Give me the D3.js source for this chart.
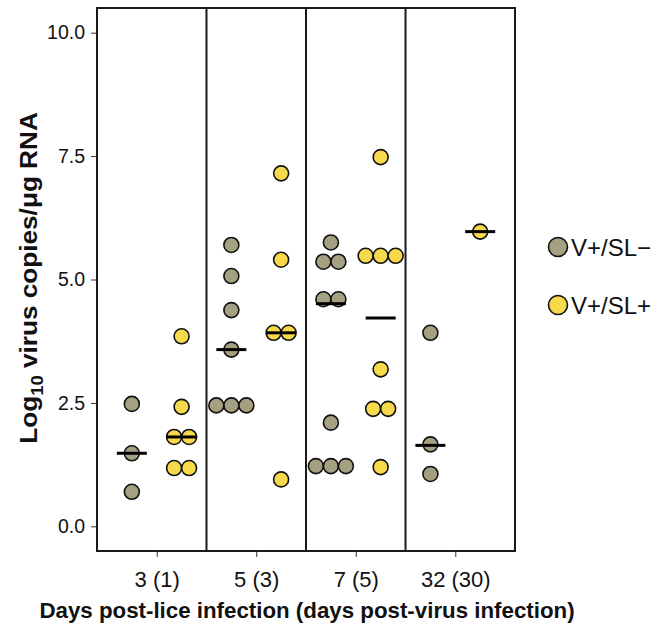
<!DOCTYPE html>
<html>
<head>
<meta charset="utf-8">
<title>Virus copies dotplot</title>
<script src="https://cdn.jsdelivr.net/npm/d3@7"></script>
<style>
  body { margin: 0; background: #fff; }
  svg { font-family: "Liberation Sans", Arial, sans-serif; }
</style>
</head>
<body>
<svg id="chart" width="665" height="625"></svg>
<script>
// categories (x groups) and series
var days = ['3 (1)', '5 (3)', '7 (5)', '32 (30)']
var seriesNames = ['V+/SL\u2212', 'V+/SL+']
var seriesColors = ['#a6a082', '#f6da4c']

// values per group
var slMinus = [
  [2.48, 1.48, 0.70],
  [5.70, 5.07, 4.38, 3.58, 2.45, 2.45, 2.45],
  [5.75, 5.36, 5.36, 4.60, 4.60, 2.10, 1.22, 1.22, 1.22],
  [3.92, 1.66, 1.06]
]
var slPlus = [
  [3.85, 2.42, 1.81, 1.81, 1.18, 1.18],
  [7.15, 5.40, 3.92, 3.92, 0.95],
  [7.48, 5.48, 5.48, 5.48, 3.18, 2.38, 2.38, 1.20],
  [5.97]
]
// median bars
var medMinus = [1.48, 3.58, 4.51, 1.64]
var medPlus = [1.81, 3.92, 4.22, 5.97]

var yTicks = [0, 2.5, 5, 7.5, 10]

var svg = d3.select('#chart')
var pLeft = 97, pRight = 515, pTop = 8, pBottom = 551
var r = 7.5

var x = d3.scaleLinear().domain([0.4, days.length + 0.6]).range([pLeft, pRight])
var y = d3.scaleLinear().domain([-0.5, 10.5]).range([pBottom, pTop])
var dodge = 0.25

var g = svg.append('g')

// vertical separators
g.selectAll('.sep')
  .data(d3.range(1, days.length))
  .enter().append('line')
  .attr('x1', d => x(d + 0.5)).attr('x2', d => x(d + 0.5))
  .attr('y1', pTop).attr('y2', pBottom)
  .attr('stroke', '#1a1a1a').attr('stroke-width', 2)

// frame
g.append('rect')
  .attr('x', pLeft).attr('y', pTop)
  .attr('width', pRight - pLeft).attr('height', pBottom - pTop)
  .attr('fill', 'none').attr('stroke', '#1a1a1a').attr('stroke-width', 2)

// y axis
var yAxis = g.append('g')
  .attr('transform', 'translate(' + pLeft + ',0)')
  .call(d3.axisLeft(y).tickValues(yTicks).tickFormat(d3.format('.1f')).tickSize(6).tickPadding(6))
yAxis.select('.domain').remove()
yAxis.selectAll('line').attr('stroke', '#333')
yAxis.selectAll('text').attr('font-size', 19.5).attr('fill', '#111')
  .attr('font-family', '"Liberation Sans", Arial, sans-serif')

// x axis
var xAxis = g.append('g')
  .attr('transform', 'translate(0,' + pBottom + ')')
  .call(d3.axisBottom(x).tickValues(d3.range(1, days.length + 1))
    .tickFormat(d => days[d - 1]).tickSize(6).tickPadding(14))
xAxis.select('.domain').remove()
xAxis.selectAll('line').attr('stroke', '#333')
xAxis.selectAll('text').attr('font-size', 22).attr('fill', '#111')
  .attr('font-family', '"Liberation Sans", Arial, sans-serif')

// stack equal values side by side, like a centred dotplot
function dots(groups, off, ci) {
  var out = []
  groups.forEach(function(vals, gi) {
    var counts = d3.rollup(vals, v => v.length, v => v)
    var seen = new Map()
    vals.forEach(function(v) {
      var n = counts.get(v), k = seen.get(v) || 0
      seen.set(v, k + 1)
      out.push({cx: x(gi + 1 + off) + (k - (n - 1) / 2) * 2 * r, cy: y(v), c: ci})
    })
  })
  return out
}

var allDots = dots(slMinus, -dodge, 0).concat(dots(slPlus, dodge, 1))

g.append('g').selectAll('circle')
  .data(allDots)
  .enter().append('circle')
  .attr('cx', d => d.cx).attr('cy', d => d.cy).attr('r', r)
  .attr('fill', d => seriesColors[d.c])
  .attr('stroke', '#111').attr('stroke-width', 1.6)

// medians
var meds = medMinus.map((m, i) => ({x: i + 1 - dodge, v: m}))
  .concat(medPlus.map((m, i) => ({x: i + 1 + dodge, v: m})))
g.append('g').selectAll('line')
  .data(meds)
  .enter().append('line')
  .attr('x1', d => x(d.x) - 15).attr('x2', d => x(d.x) + 15)
  .attr('y1', d => y(d.v)).attr('y2', d => y(d.v))
  .attr('stroke', '#000').attr('stroke-width', 3)

// axis titles
svg.append('text')
  .attr('transform', 'translate(37,278) rotate(-90) scale(1.09,1)')
  .attr('text-anchor', 'middle')
  .attr('font-size', 24).attr('font-weight', 'bold').attr('fill', '#111')
  .call(function(t) {
    t.append('tspan').text('Log')
    t.append('tspan').text('10').attr('font-size', 17).attr('dy', 6)
    t.append('tspan').text(' virus copies/\u03bcg RNA').attr('dy', -6)
  })

svg.append('text')
  .attr('x', 307).attr('y', 618)
  .attr('text-anchor', 'middle')
  .attr('font-size', 22.3).attr('font-weight', 'bold').attr('fill', '#111')
  .text('Days post-lice infection (days post-virus infection)')

// legend
var leg = svg.append('g').selectAll('g')
  .data(seriesNames)
  .enter().append('g')
  .attr('transform', (d, i) => 'translate(558,' + (247 + i * 58) + ')')
leg.append('circle').attr('r', 9.5)
  .attr('fill', (d, i) => seriesColors[i])
  .attr('stroke', '#111').attr('stroke-width', 1.6)
leg.append('text').attr('x', 13).attr('dy', '0.36em')
  .attr('font-size', 24).attr('fill', '#111')
  .text(d => d)
</script>
</body>
</html>
